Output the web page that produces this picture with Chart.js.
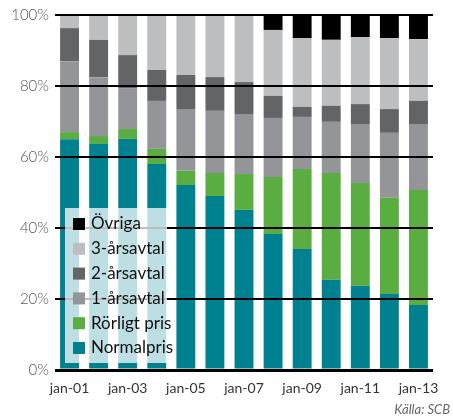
<!DOCTYPE html>
<html>
<head>
  <meta charset="UTF-8">
  <title>Avtalsformer</title>
  <script src="https://cdn.jsdelivr.net/npm/chart.js"></script>
  <style>
    body { margin: 0; background: #fff; font-family: Lato, sans-serif; }
    #wrap { position: relative; width: 453px; height: 418px; }
    #source { position: absolute; right: 3px; top: 401px; font-size: 13px; font-style: italic; color: #666; }
  </style>
</head>
<body>
  <div id="wrap">
    <canvas id="chart" width="453" height="418"></canvas>
    <div id="source">Källa: SCB</div>
  </div>

  <script>
    const labels = ["jan-01", "jan-02", "jan-03", "jan-04", "jan-05", "jan-06", "jan-07",
                    "jan-08", "jan-09", "jan-10", "jan-11", "jan-12", "jan-13"];

    // andel (%) per avtalsform
    const normalpris = [65.0, 63.7, 65.1, 58.0, 52.1, 49.0, 45.1, 38.3, 34.1, 25.4, 23.7, 21.4, 18.3];
    const rorligt    = [2.0, 2.2, 2.8, 4.3, 4.0, 6.5, 10.1, 16.1, 22.5, 30.1, 29.0, 27.1, 32.4];
    const ettAr      = [20.0, 16.6, 11.5, 13.5, 17.4, 17.5, 16.9, 16.6, 14.7, 14.4, 16.6, 18.3, 18.6];
    const tvaAr      = [9.3, 10.5, 9.3, 8.7, 9.6, 9.5, 9.0, 6.2, 2.8, 4.5, 5.6, 6.7, 6.5];
    const treAr      = [3.7, 7.0, 11.3, 15.5, 16.9, 17.5, 18.9, 18.6, 19.4, 18.6, 18.9, 20.0, 17.4];
    const ovriga     = [0, 0, 0, 0, 0, 0, 0, 4.2, 6.5, 7.0, 6.2, 6.5, 6.8];

    const yTicks = [0, 20, 40, 60, 80, 100];

    // legend drawn inside the plot, on top of the bars
    const insideLegend = {
      id: "insideLegend",
      afterDraw(chart) {
        const ctx = chart.ctx;
        ctx.save();
        ctx.fillStyle = "rgba(255,255,255,0.74)";
        ctx.fillRect(65, 208, 102, 155);
        ctx.font = "17px Lato, sans-serif";
        ctx.textBaseline = "middle";
        const sets = chart.data.datasets.slice().reverse();
        sets.forEach((ds, i) => {
          const y = 224 + i * 24.8;
          ctx.fillStyle = ds.backgroundColor;
          ctx.fillRect(73, y - 6, 12, 12);
          ctx.fillStyle = "#111";
          ctx.fillText(ds.label, 91, y);
        });
        ctx.restore();
      }
    };

    new Chart(document.getElementById("chart"), {
      type: "bar",
      data: {
        labels: labels,
        datasets: [
          { label: "Normalpris", data: normalpris, backgroundColor: "#00818f" },
          { label: "Rörligt pris", data: rorligt, backgroundColor: "#5aad41" },
          { label: "1-årsavtal", data: ettAr, backgroundColor: "#939598" },
          { label: "2-årsavtal", data: tvaAr, backgroundColor: "#636466" },
          { label: "3-årsavtal", data: treAr, backgroundColor: "#bdbec0" },
          { label: "Övriga", data: ovriga, backgroundColor: "#000000" }
        ]
      },
      options: {
        responsive: false,
        animation: false,
        layout: { padding: { top: 15, right: 20, left: 0, bottom: 0 } },
        datasets: { bar: { categoryPercentage: 1, barPercentage: 0.65 } },
        plugins: { legend: { display: false }, tooltip: { enabled: false } },
        scales: {
          x: {
            stacked: true,
            grid: { display: false },
            border: { display: false },
            afterFit: s => { s.height = 48; },
            ticks: {
              autoSkip: false,
              maxRotation: 0,
              padding: 2,
              color: "#333",
              font: { size: 14, family: "Lato" },
              callback: (v, i) => i % 2 === 0 ? labels[i] : ""
            }
          },
          y: {
            stacked: true,
            min: 0,
            max: 100,
            afterFit: s => { s.width = 55; },
            afterBuildTicks: s => { s.ticks = yTicks.map(v => ({ value: v })); },
            grid: {
              color: "#000",
              lineWidth: c => c.tick && c.tick.value === 0 ? 3 : 2,
              z: 1,
              drawTicks: false
            },
            border: { display: false },
            ticks: {
              padding: 6,
              color: "#555",
              font: { size: 15, family: "Lato", weight: 300 },
              callback: v => v + "%"
            }
          }
        }
      },
      plugins: [insideLegend]
    });
  </script>
</body>
</html>
